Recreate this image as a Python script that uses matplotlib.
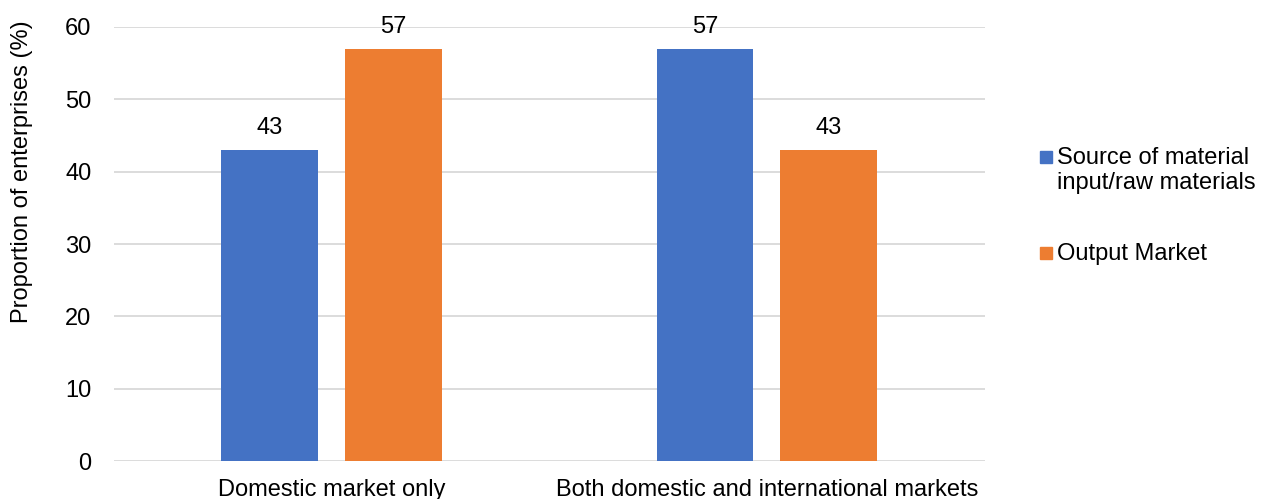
import matplotlib.pyplot as plt
import matplotlib.patches as mpatches
import numpy as np

plt.rcParams['font.family'] = ['Liberation Sans', 'DejaVu Sans']

categories = ['Domestic market only', 'Both domestic and international markets']
series_names = ['Source of material\ninput/raw materials', 'Output Market']
source_vals = [43, 57]
output_vals = [57, 43]
colors = ['#4472C4', '#ED7D31']

fs = 17

fig = plt.figure(figsize=(12.64, 4.99), dpi=100)
ax = fig.add_axes([0.090, 0.076, 0.689, 0.870])

x = np.arange(len(categories))
w = 0.222
offs = 0.142

for vals, off, c in [(source_vals, -offs, colors[0]), (output_vals, offs, colors[1])]:
    bars = ax.bar(x + off, vals, width=w, color=c, zorder=3)
    for b, v in zip(bars, vals):
        ax.annotate(f'{v}', (b.get_x() + b.get_width() / 2, v), xytext=(0, 8),
                    textcoords='offset points', ha='center', va='bottom', fontsize=fs)

ax.set_xlim(-0.5, 1.5)
ax.set_ylim(0, 60)
ax.set_yticks(range(0, 61, 10))
ax.set_xticks(x)
ax.set_xticklabels(categories, fontsize=fs)
ax.tick_params(axis='y', labelsize=fs, length=0, pad=16)
ax.tick_params(axis='x', length=0, pad=13)
ax.grid(axis='y', color='#d9d9d9', linewidth=1.3, zorder=0)
for s in ax.spines.values():
    s.set_visible(False)
ax.set_ylabel('Proportion of enterprises (%)', fontsize=fs)
ax.yaxis.set_label_coords(-0.093, 0.666)

# legend drawn by hand to match the layout
legend_items = [(series_names[0], colors[0], 157), (series_names[1], colors[1], 253)]
for label, c, ypix in legend_items:
    fig.patches.append(mpatches.Rectangle((1040 / 1264, 1 - (ypix + 6) / 499), 12 / 1264, 12 / 499,
                                          transform=fig.transFigure, color=c, figure=fig))
    fig.text(1057 / 1264, 1 - (ypix - 10) / 499, label, fontsize=fs, va='top', ha='left',
             linespacing=1.2)

plt.savefig('out.png', dpi=100)
plt.close()
